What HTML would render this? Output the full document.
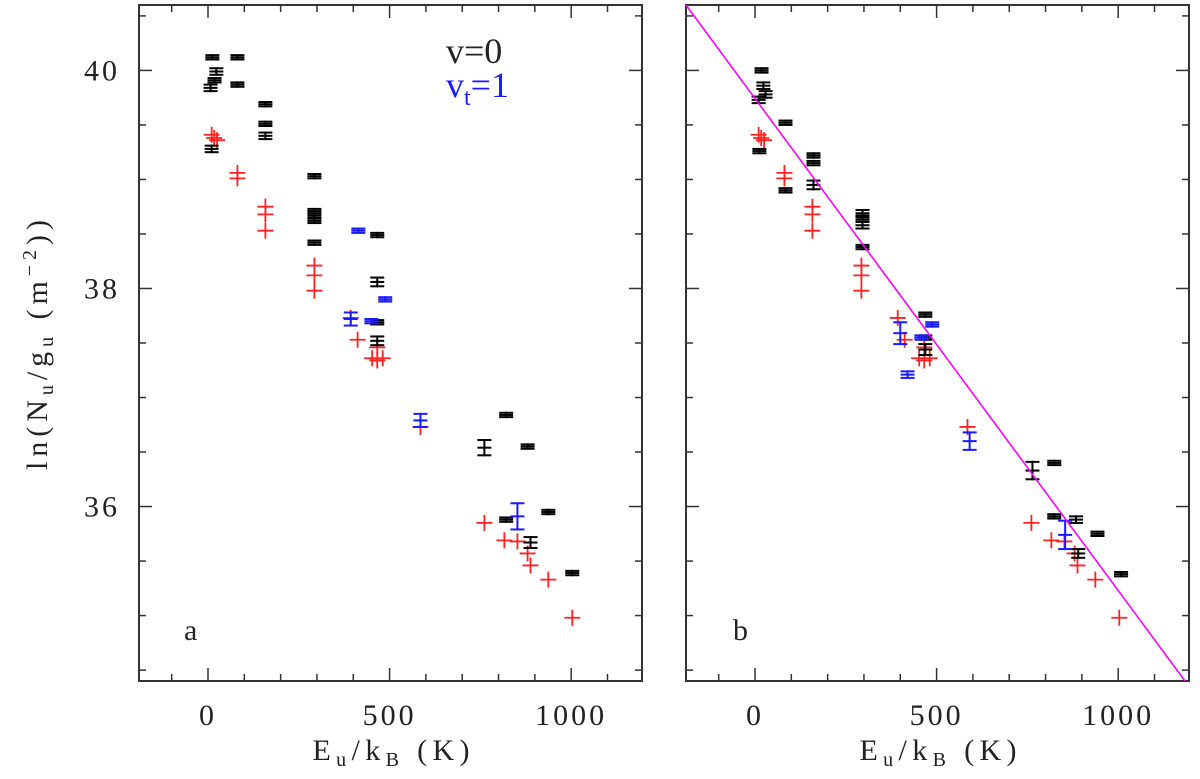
<!DOCTYPE html>
<html><head><meta charset="utf-8"><style>
body{margin:0;background:#fff;}
svg{display:block;font-family:"Liberation Serif",serif;}
</style></head><body>
<svg id="chart" width="1200" height="779" viewBox="0 0 1200 779" xmlns="http://www.w3.org/2000/svg">
<g id="root"></g>
</svg>
<script>
const xTicksMajor = [0, 500, 1000];
const yTicksMajor = [36, 38, 40];
// panel a black (v=0): E, lnN, err
const aBlackE = [12,81,23,18,7,81,158,158,158,10,293,293,293,293,293,466,466,466,466,821,761,880,821,937,888,1003];
const aBlackY = [40.12,40.12,39.99,39.91,39.84,39.87,39.69,39.51,39.40,39.28,39.03,38.71,38.67,38.62,38.42,38.49,38.06,37.69,37.52,36.84,36.54,36.55,35.88,35.95,35.67,35.39];
const aBlackErr = [0.02,0.02,0.03,0.02,0.03,0.02,0.02,0.02,0.03,0.03,0.02,0.02,0.02,0.02,0.02,0.02,0.04,0.02,0.04,0.02,0.07,0.02,0.02,0.02,0.05,0.02];
const aBlueE = [414,488,450,393,585,852];
const aBlueY = [38.53,37.90,37.70,37.72,36.79,35.91];
const aBlueErr = [0.02,0.02,0.02,0.06,0.06,0.12];
// red points (same in both panels)
const redE = [10,25,17,81,81,158,158,158,293,293,293,412,393,466,452,481,466,585,761,816,852,880,888,937,1003];
const redY = [39.41,39.36,39.38,39.06,39.01,38.75,38.68,38.53,38.21,38.12,37.98,37.53,37.73,37.46,37.36,37.36,37.34,36.73,35.85,35.69,35.68,35.57,35.46,35.33,34.98];
// panel b
const bBlackE = [18,23,29,10,12,84,84,161,161,161,296,296,296,296,469,469,469,764,824,824,884,943,890,1008];
const bBlackY = [40.0,39.86,39.78,39.73,39.26,39.52,38.90,39.22,39.15,38.95,38.69,38.65,38.58,38.38,37.76,37.55,37.44,36.33,36.40,35.91,35.88,35.75,35.57,35.38];
const bBlackErr = [0.02,0.03,0.03,0.03,0.02,0.02,0.02,0.02,0.02,0.04,0.03,0.02,0.03,0.02,0.02,0.02,0.05,0.08,0.02,0.02,0.03,0.02,0.04,0.02];
const bBlueE = [488,458,400,420,591,854];
const bBlueY = [37.67,37.55,37.59,37.21,36.60,35.74];
const bBlueErr = [0.02,0.02,0.10,0.03,0.08,0.13];
const fitX = [-190, 1184];
const fitY = [40.6, 34.4];

const NS = "http://www.w3.org/2000/svg";
const root = document.getElementById('root');
const X0 = -190, X1 = 1195, Y0 = 34.4, Y1 = 40.6;
const TOP = 5, BOT = 681, W = 503;
function mk(tag, attrs, parent){const e=document.createElementNS(NS,tag);for(const k in attrs)e.setAttribute(k,attrs[k]);(parent||root).appendChild(e);return e;}
function panel(left, name){
  const g = mk('g',{});
  
  
  const sx = v => left + (v - X0) / (X1 - X0) * W;
  const sy = v => BOT - (v - Y0) / (Y1 - Y0) * (BOT - TOP);
  return {g, sx, sy, left};
}
function frame(p, withLabels){
  const {g,sx,sy,left}=p;
  const fr = mk('rect',{x:left,y:TOP,width:W,height:BOT-TOP,fill:'none',stroke:'#333','stroke-width':2},g);
  
  
  for(let v=-100; v<=1100; v+=100){
    const L = (v%500===0)?13:7, x=sx(v);
    mk('line',{x1:x,y1:BOT,x2:x,y2:BOT-L,stroke:'#333','stroke-width':1.5},g);
    mk('line',{x1:x,y1:TOP,x2:x,y2:TOP+L,stroke:'#333','stroke-width':1.5},g);
  }
  for(let v=34.5; v<=40.51; v+=0.5){
    const L = (Math.abs(v%2)<1e-6)?13:7, y=sy(v);
    mk('line',{x1:left,y1:y,x2:left+L,y2:y,stroke:'#333','stroke-width':1.5},g);
    mk('line',{x1:left+W,y1:y,x2:left+W-L,y2:y,stroke:'#333','stroke-width':1.5},g);
  }
  xTicksMajor.forEach(v=>{
    const t=mk('text',{x:sx(v),y:725,'text-anchor':'middle','font-size':30,'letter-spacing':3,fill:'#222'},g);
    t.textContent=v;
    
    
  });
  if(withLabels){
    yTicksMajor.forEach(v=>{
      const t=mk('text',{x:120,y:sy(v)+10,'text-anchor':'end','font-size':30,'letter-spacing':3,fill:'#222'},g);
      t.textContent=v;
      
      
    });
  }
  const xl=mk('text',{x:left+W/2-78,y:760,'font-size':30,fill:'#222',textLength:157,lengthAdjust:'spacing'},g);
  xl.innerHTML='E<tspan font-size="20" dy="6">u</tspan><tspan dy="-6">/k</tspan><tspan font-size="20" dy="6">B</tspan><tspan dy="-6"> (K)</tspan>';
  
  
}
function errPts(p, E, Y, Er, color, name){
  E.forEach((e,i)=>{
    const x=p.sx(e), y=p.sy(Y[i]), y1=p.sy(Y[i]+Er[i]), y2=p.sy(Y[i]-Er[i]);
    const g=mk('g',{stroke:color,'stroke-width':2},p.g);
    
    
    mk('line',{x1:x,y1:y1-1,x2:x,y2:y2+1},g);
    mk('line',{x1:x-7,y1:y1,x2:x+7,y2:y1},g);
    mk('line',{x1:x-7,y1:y2,x2:x+7,y2:y2},g);
    mk('line',{x1:x-7,y1:y,x2:x+7,y2:y},g);
  });
}
function crosses(p, E, Y, name){
  E.forEach((e,i)=>{
    const x=p.sx(e), y=p.sy(Y[i]);
    const g=mk('g',{stroke:'#ff2020','stroke-width':1.8},p.g);
    
    
    mk('line',{x1:x-8,y1:y,x2:x+8,y2:y},g);
    mk('line',{x1:x,y1:y-8,x2:x,y2:y+8},g);
  });
}
const pa = panel(139,'panel-a');
frame(pa, true);
crosses(pa, redE, redY, 'red-point');
errPts(pa, aBlackE, aBlackY, aBlackErr, '#000', 'v0-point');
errPts(pa, aBlueE, aBlueY, aBlueErr, '#1a1aff', 'vt1-point');
let t=mk('text',{x:184,y:640,'font-size':30,fill:'#222'},pa.g);t.textContent='a';

t=mk('text',{x:446,y:63,'font-size':36,fill:'#222'},pa.g);t.textContent='v=0';

t=mk('text',{x:446,y:97,'font-size':36,fill:'#1a1aff'},pa.g);
t.innerHTML='v<tspan font-size="24" dy="8">t</tspan><tspan dy="-8">=1</tspan>';


const pb = panel(686,'panel-b');
frame(pb, false);
crosses(pb, redE, redY, 'red-point');
errPts(pb, bBlackE, bBlackY, bBlackErr, '#000', 'v0-point');
errPts(pb, bBlueE, bBlueY, bBlueErr, '#1a1aff', 'vt1-point');
const fl=mk('line',{x1:pb.sx(fitX[0]),y1:pb.sy(fitY[0]),x2:pb.sx(fitX[1]),y2:pb.sy(fitY[1]),stroke:'#ff00ff','stroke-width':1.6},pb.g);

t=mk('text',{x:733,y:640,'font-size':30,fill:'#222'},pb.g);t.textContent='b';


const yl=mk('text',{x:-125,y:0,'font-size':30,fill:'#222',transform:'translate(47,345) rotate(-90)',textLength:250,lengthAdjust:'spacing'});
yl.innerHTML='ln(N<tspan font-size="20" dy="6">u</tspan><tspan dy="-6">/g</tspan><tspan font-size="20" dy="6">u</tspan><tspan dy="-6">  (m</tspan><tspan font-size="20" dy="-11">−2</tspan><tspan dy="11">))</tspan>';

</script>
</body></html>
